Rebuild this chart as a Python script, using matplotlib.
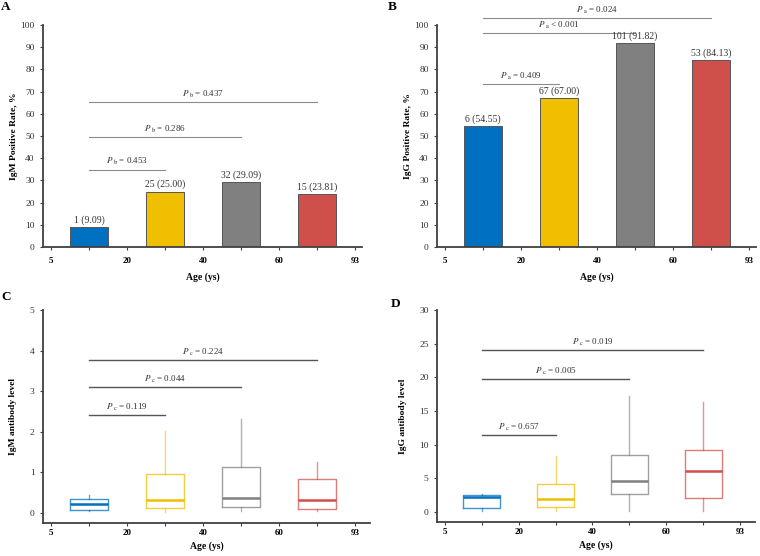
import numpy as np
import matplotlib
matplotlib.use("Agg")
import matplotlib.pyplot as plt
from matplotlib.ticker import FixedLocator

plt.rcParams['font.family'] = ['Liberation Serif', 'DejaVu Serif']
plt.rcParams['mathtext.fontset'] = 'stix'

# data
age_ticks = ['5', '20', '40', '60', '93']
colors = ['#0070C0', '#EFBF00', '#808080', '#CF504B']

igm_rate = [9.09, 25.00, 29.09, 23.81]
igm_labels = ['1 (9.09)', '25 (25.00)', '32 (29.09)', '15 (23.81)']
igg_rate = [54.55, 67.00, 91.82, 84.13]
igg_labels = ['6 (54.55)', '67 (67.00)', '101 (91.82)', '53 (84.13)']

# comparisons: (group from, group to, line height, text)
igm_rate_p = [(1, 2, 34.9, r'$P_{\ \rm b}$ = 0.453'),
              (1, 3, 49.6, r'$P_{\ \rm b}$ = 0.286'),
              (1, 4, 65.2, r'$P_{\ \rm b}$ = 0.437')]
igg_rate_p = [(1, 2, 73.3, r'$P_{\ \rm a}$ = 0.409'),
              (1, 3, 96.3, r'$P_{\ \rm a}$ < 0.001'),
              (1, 4, 103.3, r'$P_{\ \rm a}$ = 0.024')]

# box stats: whislo, q1, med, q3, whishi
igm_box = [(0.05, 0.08, 0.21, 0.35, 0.45),
           (0.02, 0.13, 0.31, 0.97, 2.02),
           (0.05, 0.15, 0.36, 1.14, 2.32),
           (0.04, 0.10, 0.32, 0.84, 1.26)]
igg_box = [(0.10, 0.54, 2.17, 2.52, 2.67),
           (0.10, 0.69, 1.88, 4.20, 8.25),
           (0.10, 2.67, 4.65, 8.50, 17.2),
           (0.10, 2.03, 6.03, 9.19, 16.36)]
igm_box_p = [(1, 2, 2.41, r'$P_{\ \rm c}$ = 0.119'),
             (1, 3, 3.09, r'$P_{\ \rm c}$ = 0.044'),
             (1, 4, 3.77, r'$P_{\ \rm c}$ = 0.224')]
igg_box_p = [(1, 2, 11.47, r'$P_{\ \rm c}$ = 0.657'),
             (1, 3, 19.72, r'$P_{\ \rm c}$ = 0.005'),
             (1, 4, 24.07, r'$P_{\ \rm c}$ = 0.019')]

W, H = 760, 556
fig = plt.figure(figsize=(W / 100, H / 100), dpi=100)


def add_ax(l, r, t, b):
    return fig.add_axes([l / W, 1 - b / H, (r - l) / W, (b - t) / H])


spine_c = '#404040'


def style(ax, ymin, ymax, step, xright, xpad, xlabpad):
    ax.set_xlim(0.395, xright)
    ax.set_ylim(ymin, ymax)
    for s in ['top', 'right']:
        ax.spines[s].set_visible(False)
    for s in ['left', 'bottom']:
        ax.spines[s].set_color(spine_c)
        ax.spines[s].set_linewidth(1.3)
    ax.set_xticks(np.arange(0.5, 5, 1))
    ax.set_xticklabels(age_ticks, fontweight='bold', fontsize=6.5)
    ax.xaxis.set_minor_locator(FixedLocator([1, 2, 3, 4]))
    ax.set_yticks(np.arange(0, ymax + 0.01, step))
    ax.tick_params(axis='both', which='both', direction='out', length=2.5,
                   width=0.8, color=spine_c, labelsize=6.8, labelcolor='#333333')
    ax.tick_params(axis='x', labelsize=6.5, labelcolor='black', pad=xpad)
    ax.set_xlabel('Age (ys)', fontweight='bold', fontsize=7, labelpad=xlabpad)


def p_lines(ax, comps, color, lw):
    for a, b, y, txt in comps:
        ax.plot([a, b], [y, y], color=color, lw=lw, clip_on=False)
        ax.annotate(txt, ((a + b) / 2, y), xytext=(0, 1.5), textcoords='offset points',
                    ha='center', va='bottom', fontsize=6.5, color='#333333',
                    annotation_clip=False)


def bar_panel(ax, vals, labels, comps, ylabel):
    x = np.arange(1, 5)
    ax.bar(x, vals, width=0.5, color=colors, edgecolor='#555555', linewidth=0.7, zorder=2)
    for xi, v, lab in zip(x, vals, labels):
        ax.annotate(lab, (xi, v), xytext=(0, 1.5), textcoords='offset points',
                    ha='center', va='bottom', fontsize=7, color='#333333')
    style(ax, 0, 100, 10, 4.59, 5, 5)
    ax.set_ylabel(ylabel, fontweight='bold', fontsize=6.8, labelpad=2)
    p_lines(ax, comps, '#8c8c8c', 0.8)


def box_panel(ax, boxes, comps, ymin, ymax, step, ylabel):
    stats = []
    for lo, q1, med, q3, hi in boxes:
        stats.append(dict(whislo=lo, q1=q1, med=med, q3=q3, whishi=hi, fliers=[]))
    for i, (st, c) in enumerate(zip(stats, colors)):
        ax.bxp([st], positions=[i + 1], widths=0.5, showcaps=False, showfliers=False,
               patch_artist=False,
               boxprops=dict(color=c, lw=1.0, alpha=0.75),
               whiskerprops=dict(color=c, lw=1.0, alpha=0.6),
               medianprops=dict(color=c, lw=1.8))
    style(ax, ymin, ymax, step, 4.7, 2, 3)
    ax.set_ylabel(ylabel, fontweight='bold', fontsize=6.8, labelpad=9)
    p_lines(ax, comps, '#555555', 1.0)


axA = add_ax(43, 362, 25, 247)
bar_panel(axA, igm_rate, igm_labels, igm_rate_p, 'IgM Positive Rate, %')
axB = add_ax(437, 756, 25, 247)
bar_panel(axB, igg_rate, igg_labels, igg_rate_p, 'IgG Positive Rate, %')
axC = add_ax(43, 370, 310, 523)
box_panel(axC, igm_box, igm_box_p, -0.25, 5, 1, 'IgM antibody level')
axD = add_ax(437, 755, 310, 522)
box_panel(axD, igg_box, igg_box_p, -1.5, 30, 5, 'IgG antibody level')

for lab, px, py in [('A', 6, 7), ('B', 392, 7), ('C', 6, 297), ('D', 396, 304)]:
    fig.text(px / W, 1 - py / H, lab, fontsize=9.5, fontweight='bold', ha='center', va='center')

fig.savefig('out.png', dpi=100)
